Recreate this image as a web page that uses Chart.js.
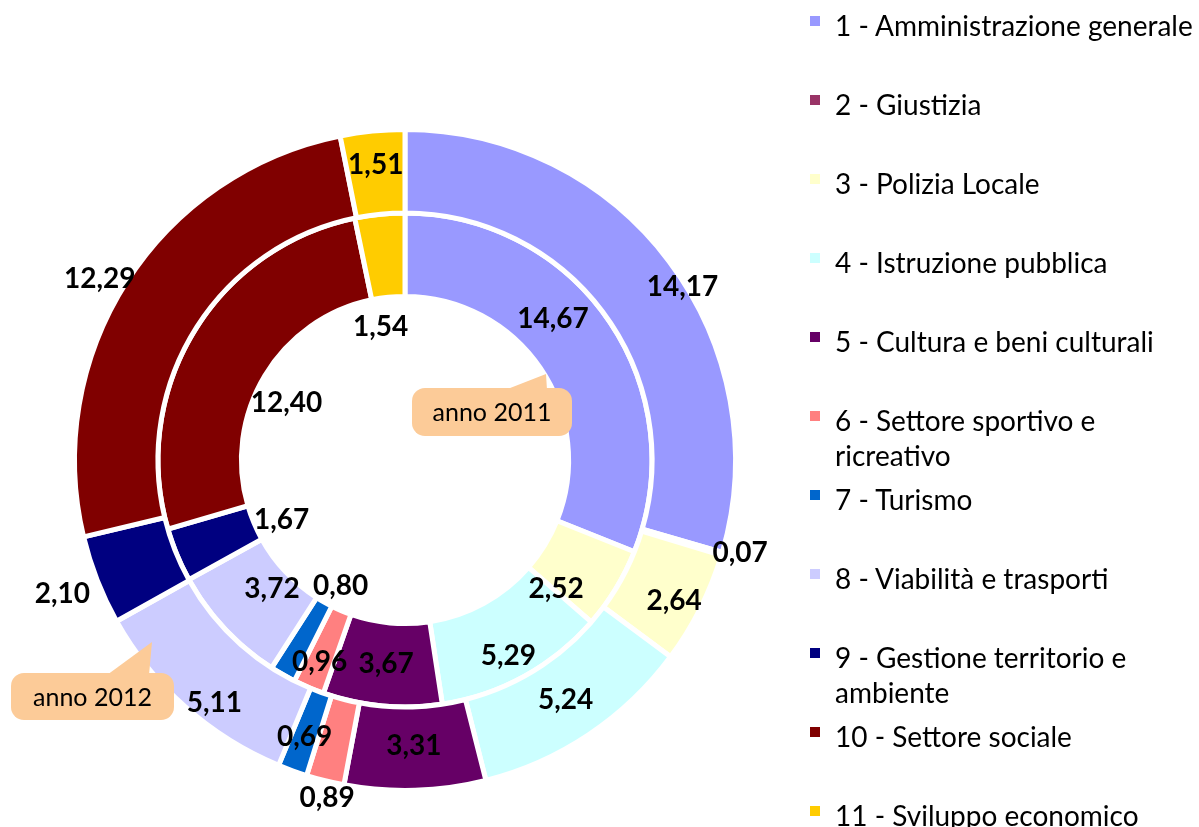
<!DOCTYPE html>
<html lang="it">
<head>
<meta charset="utf-8">
<title>Spese per funzione 2011 - 2012</title>
<script src="https://cdn.jsdelivr.net/npm/chart.js@4.4.1/dist/chart.umd.min.js"></script>
<style>
    html, body { margin: 0; padding: 0; background: #fff; }
    #wrap { position: relative; width: 1199px; height: 827px; overflow: hidden; }
    #grafico { position: absolute; left: 0; top: 0; }
    #legend {
        position: absolute; left: 810px; top: 8px; width: 389px;
        font-family: Lato, "Open Sans", sans-serif; font-size: 28px; color: #000;
    }
    #legend .item { position: relative; height: 79px; padding-left: 25px; line-height: 35px; }
    #legend .item i { position: absolute; left: 0; top: 8px; width: 10px; height: 10px; }
</style>
</head>
<body>
<div id="wrap">
    <canvas id="grafico" width="1199" height="827"></canvas>
    <div id="legend"></div>
</div>
<script>
// Categorie (funzioni di spesa)
const categorie = [
    '1 - Amministrazione generale',
    '2 - Giustizia',
    '3 - Polizia Locale',
    '4 - Istruzione pubblica',
    '5 - Cultura e beni culturali',
    '6 - Settore sportivo e ricreativo',
    '7 - Turismo',
    '8 - Viabilità e trasporti',
    '9 - Gestione territorio e ambiente',
    '10 - Settore sociale',
    '11 - Sviluppo economico'
];

// valori anello esterno (anno 2012) e interno (anno 2011)
const valori2012 = [14.17, 0.07, 2.64, 5.24, 3.31, 0.89, 0.69, 5.11, 2.10, 12.29, 1.51];
const valori2011 = [14.67, 0, 2.52, 5.29, 3.67, 0.96, 0.80, 3.72, 1.67, 12.40, 1.54];

const colori = [
    '#9999FF', '#993366', '#FFFFCC', '#CCFFFF', '#660066', '#FF8080',
    '#0066CC', '#CCCCFF', '#000080', '#800000', '#FFCC00'
];

// spostamento delle etichette: [px radiali, gradi]
const spostamento2012 = [[38, 5], [59, -1], [15, 1], [0, 0], [-3, 0], [58, -1], [6, 0], [20, -3.5], [79, 0], [66, -2], [8, 0]];
const spostamento2011 = [[-1, -9.5], [0, 0], [-7, 9], [16, 1], [0, 0], [14, 0], [-64, -2.5], [-20, -1], [-68, -3.5], [-74, -5.5], [-70, -4.5]];

const formatta = v => v.toFixed(2).replace('.', ',');

// Etichette dei valori
const etichetteValori = {
    id: 'etichetteValori',
    afterDatasetsDraw(chart) {
        const ctx = chart.ctx;
        ctx.save();
        ctx.font = 'bold 28px Lato, "Open Sans", sans-serif';
        ctx.fillStyle = '#000';
        ctx.textAlign = 'center';
        ctx.textBaseline = 'middle';
        chart.data.datasets.forEach((ds, di) => {
            const meta = chart.getDatasetMeta(di);
            const shifts = di === 0 ? spostamento2012 : spostamento2011;
            meta.data.forEach((arc, i) => {
                const v = ds.data[i];
                if (!v) return;
                const p = arc.getProps(['x', 'y', 'startAngle', 'endAngle', 'innerRadius', 'outerRadius'], true);
                const a = (p.startAngle + p.endAngle) / 2 + shifts[i][1] * Math.PI / 180;
                const r = (p.innerRadius + p.outerRadius) / 2 + shifts[i][0];
                ctx.fillText(formatta(v), p.x + r * Math.cos(a), p.y + r * Math.sin(a));
            });
        });
        ctx.restore();
    }
};

// Fumetti "anno 2011" / "anno 2012"
const fumetti = {
    id: 'fumetti',
    afterDraw(chart) {
        const ctx = chart.ctx;
        const disegna = (x, y, w, h, coda, testo) => {
            ctx.save();
            ctx.fillStyle = '#FCCB98';
            ctx.beginPath();
            ctx.roundRect(x, y, w, h, 13);
            ctx.fill();
            ctx.beginPath();
            ctx.moveTo(coda[0], y + 2);
            ctx.lineTo(coda[2], coda[3]);
            ctx.lineTo(coda[1], y + 2);
            ctx.closePath();
            ctx.fill();
            ctx.fillStyle = '#000';
            ctx.font = '25px Lato, "Open Sans", sans-serif';
            ctx.textAlign = 'center';
            ctx.textBaseline = 'middle';
            ctx.fillText(testo, x + w / 2, y + h / 2 + 1);
            ctx.restore();
        };
        disegna(412, 388, 160, 48, [505, 547, 546, 374], 'anno 2011');
        disegna(11, 673, 163, 47, [107, 149, 152, 642], 'anno 2012');
    }
};

new Chart(document.getElementById('grafico'), {
    type: 'doughnut',
    data: {
        labels: categorie,
        datasets: [
            { label: 'anno 2012', data: valori2012, backgroundColor: colori, borderColor: '#fff', borderWidth: 5 },
            { label: 'anno 2011', data: valori2011, backgroundColor: colori, borderColor: '#fff', borderWidth: 5 }
        ]
    },
    options: {
        responsive: false,
        animation: false,
        cutout: '49.5%',
        layout: { padding: { top: 127, bottom: 34, left: 72, right: 461 } },
        plugins: {
            legend: { display: false },
            tooltip: { enabled: false }
        },
        events: []
    },
    plugins: [etichetteValori, fumetti]
});

// Legenda HTML
const legenda = document.getElementById('legend');
categorie.forEach((nome, i) => {
    const item = document.createElement('div');
    item.className = 'item';
    item.innerHTML = `<i style="background:${colori[i]}"></i>${nome}`;
    legenda.appendChild(item);
});
</script>
</body>
</html>
